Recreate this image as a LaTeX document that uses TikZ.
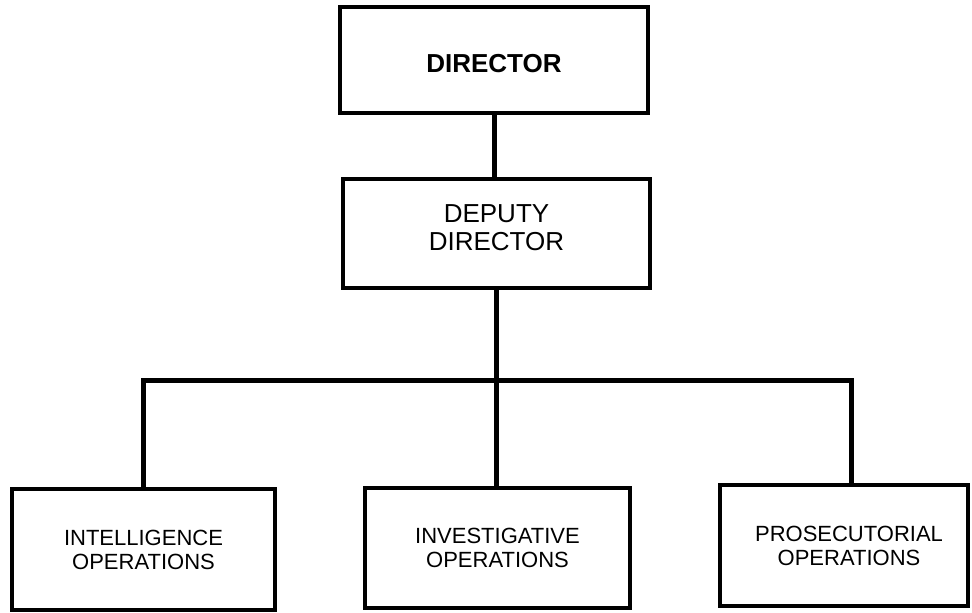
\documentclass[tikz,border=0pt]{standalone}
\usepackage{fontspec}
\setmainfont{Liberation Sans}
\begin{document}
\begin{tikzpicture}[x=1pt,y=-1pt,
  box/.style={draw=black,line width=4pt,rectangle,inner sep=0pt},
  toptext/.style={align=center,inner sep=0pt,font=\fontsize{26}{28}\selectfont},
  lowtext/.style={align=center,inner sep=0pt,font=\fontsize{22}{24}\selectfont},
  link/.style={draw=black,line width=5pt}]
\useasboundingbox (0,0) rectangle (972,613);
\node[box,minimum width=308pt,minimum height=106pt] (dir) at (494,60) {};
\node[box,minimum width=307pt,minimum height=109pt] (dep) at (496.5,233.5) {};
\node[box,minimum width=263pt,minimum height=121pt] (int) at (143.5,549.5) {};
\node[box,minimum width=265pt,minimum height=120pt] (inv) at (497.5,548) {};
\node[box,minimum width=248pt,minimum height=121pt] (pro) at (844,545.5) {};
\node[toptext] (dirt) at ([yshift=-4pt]dir.center) {\textbf{DIRECTOR}};
\node[toptext] (dept) at ([yshift=6pt]dep.center) {DEPUTY\\DIRECTOR};
\node[lowtext] (intt) at (int.center) {INTELLIGENCE\\OPERATIONS};
\node[lowtext] (invt) at (inv.center) {INVESTIGATIVE\\OPERATIONS};
\node[lowtext] (prot) at ([xshift=5pt]pro.center) {PROSECUTORIAL\\OPERATIONS};
\coordinate (busL) at (143,380);
\coordinate (busR) at (851,380);
\draw[link] (dir.south) -- (dir.south |- dep.north);
\draw[link] (dep.south) -- (dep.south |- inv.north);
\draw[link,line join=miter] (int.north -| busL) -- (busL) -- (busR) -- (pro.north -| busR);
\end{tikzpicture}
\end{document}
